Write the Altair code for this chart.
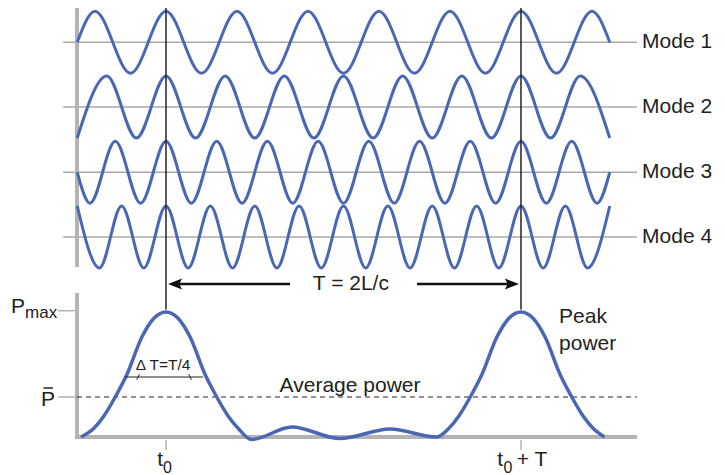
import altair as alt
import pandas as pd

# ---------------- data (time in units where T = 2L/c = 1680, t0 = 0) ----------------
# extremes / key points of each longitudinal mode (value +1 = crest, -1 = trough)
mode1_t = [-420, -336, -168, 0, 168, 336, 504, 672, 840, 1008, 1176, 1344, 1512, 1680, 1848, 2016, 2100]
mode1_v = [0, 1, -1, 1, -1, 1, -1, 1, -1, 1, -1, 1, -1, 1, -1, 1, 0]

mode2_t = [-420, -280, -140, 0, 140, 280, 420, 560, 700, 840, 980, 1120, 1260, 1400, 1540, 1680, 1820, 1960, 2100]
mode2_v = [-1, 1, -1, 1, -1, 1, -1, 1, -1, 1, -1, 1, -1, 1, -1, 1, -1, 1, -1]

mode3_t = [-420, -360, -240, -120, 0, 120, 240, 360, 480, 600, 720, 840, 960, 1080, 1200, 1320, 1440, 1560, 1680, 1800, 1920, 2040, 2100]
mode3_v = [0, -1, 1, -1, 1, -1, 1, -1, 1, -1, 1, -1, 1, -1, 1, -1, 1, -1, 1, -1, 1, -1, 0]

mode4_t = [-420, -315, -210, -105, 0, 105, 210, 315, 420, 525, 630, 735, 840, 945, 1050, 1155, 1260, 1365, 1470, 1575, 1680, 1785, 1890, 1995, 2100]
mode4_v = [1, -1, 1, -1, 1, -1, 1, -1, 1, -1, 1, -1, 1, -1, 1, -1, 1, -1, 1, -1, 1, -1, 1, -1, 1]

mode_names = ["Mode 1", "Mode 2", "Mode 3", "Mode 4"]

# total output power (relative to Pmax)
power_t = [-402, -341, -293, -237, -185, -114, -57, 0, 57, 114, 185, 237, 293, 341, 405,
           596, 823, 1060, 1280,
           1339, 1387, 1443, 1495, 1566, 1623, 1680, 1737, 1794, 1865, 1917, 1973, 2021, 2075]
power_v = [0, 0.07, 0.17, 0.33, 0.5, 0.8, 0.95, 1, 0.95, 0.8, 0.5, 0.33, 0.17, 0.07, -0.02,
           0.08, -0.012, 0.064, 0,
           0.07, 0.17, 0.33, 0.5, 0.8, 0.95, 1, 0.95, 0.8, 0.5, 0.33, 0.17, 0.07, 0]

p_max = 1.0
p_avg = 0.32
t_ticks = [0, 1680]

# ---------------- layout / style ----------------
W, H = 709, 467
XS = alt.Scale(domain=[-747.7, 2607.6], nice=False, zero=False)
YS = alt.Scale(domain=[-0.304, 3.432], nice=False, zero=False)
MODE_BASE = [3.158, 2.64, 2.118, 1.6]
AMP = 0.248
BLUE = "#4a67b4"
GRAY = "#b3b3b3"
LGRAY = "#a8a8a8"
INK = "#222222"
FONT = "Liberation Sans"


def X(f="t"):
    return alt.X(f"{f}:Q", scale=XS, axis=None)


def Y(f="y"):
    return alt.Y(f"{f}:Q", scale=YS, axis=None)


def seg(t, t2, y, y2, color, width, dash=None):
    df = pd.DataFrame({"t": [t], "t2": [t2], "y": [y], "y2": [y2]})
    kw = dict(color=color, strokeWidth=width)
    if dash:
        kw["strokeDash"] = dash
    return alt.Chart(df).mark_rule(**kw).encode(
        x=X(), x2=alt.X2("t2:Q"), y=Y(), y2=alt.Y2("y2:Q"))


def txt(t, y, s, size, align="left", baseline="alphabetic", color=INK):
    df = pd.DataFrame({"t": [t], "y": [y], "s": [s]})
    return alt.Chart(df).mark_text(
        align=align, baseline=baseline, fontSize=size, font=FONT, color=color
    ).encode(x=X(), y=Y(), text="s:N")


def sym(t, y, shape, size, filled=True, color=INK, width=1):
    df = pd.DataFrame({"t": [t], "y": [y]})
    if filled:
        m = alt.Chart(df).mark_point(shape=shape, size=size, filled=True, fill=color,
                                     strokeWidth=0, opacity=1)
    else:
        m = alt.Chart(df).mark_point(shape=shape, size=size, filled=False, stroke=color,
                                     strokeWidth=width, opacity=1)
    return m.encode(x=X(), y=Y())


layers = []

# mode baselines (gray) and labels
for i, name in enumerate(mode_names):
    layers.append(seg(-487, 2229, MODE_BASE[i], MODE_BASE[i], LGRAY, 1.5))
    layers.append(txt(2253, MODE_BASE[i], name, 21, baseline="middle"))

# left bar of the top panel
layers.append(seg(-421, -421, 1.36, 3.432, GRAY, 4))

# waves
rows = []
for i, (ts, vs) in enumerate([(mode1_t, mode1_v), (mode2_t, mode2_v),
                              (mode3_t, mode3_v), (mode4_t, mode4_v)]):
    for t, v in zip(ts, vs):
        rows.append({"t": t, "y": MODE_BASE[i] + AMP * v, "mode": mode_names[i]})
waves = pd.DataFrame(rows)
layers.append(alt.Chart(waves).mark_line(interpolate="monotone", color=BLUE, strokeWidth=3)
              .encode(x=X(), y=Y(), detail="mode:N"))

# vertical markers at t0 and t0+T
for tt in t_ticks:
    layers.append(seg(tt, tt, 1.02, 3.432, INK, 1.5))

# T = 2L/c arrow
AY = 1.224
layers.append(seg(43, 587, AY, AY, "#111111", 2.5))
layers.append(seg(1188, 1637, AY, AY, "#111111", 2.5))
layers.append(sym(43, AY, "M-1,0L1,-0.8L0.6,0L1,0.8Z", 196, color="#111111"))
layers.append(sym(1637, AY, "M1,0L-1,-0.8L-0.6,0L-1,0.8Z", 196, color="#111111"))
layers.append(txt(875, AY, "T = 2L/c", 21, align="center", baseline="middle"))

# bottom panel axes
layers.append(seg(-421, -421, -0.016, 1.152, GRAY, 4))
layers.append(seg(-431, 2229, 0, 0, GRAY, 4))
layers.append(seg(-511, -431, p_max + 0.01, p_max + 0.01, GRAY, 1.5))
layers.append(seg(-511, -431, p_avg, p_avg, GRAY, 1.5))
for tt in t_ticks:
    layers.append(seg(tt, tt, -0.024, -0.104, GRAY, 1.5))

# average power dashed line
layers.append(seg(-421, 2229, p_avg, p_avg, INK, 1.2, dash=[5, 4]))
layers.append(txt(871, 0.36, "Average power", 21, align="center"))

# power curve
pw = pd.DataFrame({"t": power_t, "y": power_v})
layers.append(alt.Chart(pw).mark_line(interpolate="monotone", color=BLUE, strokeWidth=3.5)
              .encode(x=X(), y=Y()))

# delta T annotation
layers.append(seg(-194, 175, 0.48, 0.48, INK, 1.2))
layers.append(sym(-132, 0.48, "M-0.4,0.8L0.4,-0.8", 49, filled=False, width=1))
layers.append(sym(114, 0.48, "M-0.4,-0.8L0.4,0.8", 49, filled=False, width=1))
layers.append(txt(-14, 0.536, "\u0394 T=T/4", 15.5, align="center"))

# y labels
layers.append(txt(-734, 0.992, "P", 21))
layers.append(txt(-667, 0.952, "max", 17))
layers.append(txt(-558, 0.248, "P", 21, align="center"))
layers.append(seg(-580, -535, 0.392, 0.392, INK, 1.5))

# peak power label
layers.append(txt(1860, 0.912, "Peak", 21))
layers.append(txt(1860, 0.696, "power", 21))

# x labels
layers.append(txt(-28, -0.232, "t", 21, align="center"))
layers.append(txt(7, -0.29, "0", 16, align="center"))
layers.append(txt(1581, -0.232, "t", 21, align="center"))
layers.append(txt(1618, -0.29, "0", 16, align="center"))
layers.append(txt(1660, -0.232, "+ T", 21))

chart = alt.layer(*layers).properties(
    width=W, height=H, padding=0,
    autosize=alt.AutoSizeParams(type="none"),
).configure_view(stroke=None)

chart.save("out.html", embed_options={"renderer": "svg", "actions": False})
